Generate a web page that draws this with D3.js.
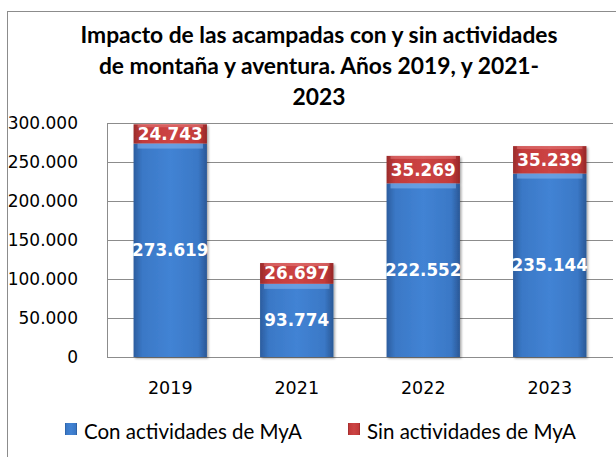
<!DOCTYPE html>
<html><head><meta charset="utf-8">
<script src="https://cdn.jsdelivr.net/npm/d3@7"></script>
<style>body{margin:0;background:#fff}svg{display:block}</style>
</head><body><svg id="c" width="616" height="457"></svg>
<script>
const categories = ["2019", "2021", "2022", "2023"];
const conMyA = [273619, 93774, 222552, 235144];
const sinMyA = [24743, 26697, 35269, 35239];
const seriesNames = ["Con actividades de MyA", "Sin actividades de MyA"];
const yTicks = [0, 50000, 100000, 150000, 200000, 250000, 300000];
const titleLines = ["Impacto de las acampadas con y sin actividades", "de montaña y aventura. Años 2019, y 2021-", "2023"];

(function () {
const svg = d3.select("#c");
const fmt = v => d3.format(",")(v).replace(/,/g, ".");

const defs = svg.append("defs");
function grad(id, stops) {
  const g = defs.append("linearGradient").attr("id", id).attr("x1", "0").attr("x2", "1").attr("y1", "0").attr("y2", "0");
  stops.forEach(s => g.append("stop").attr("offset", s[0]).attr("stop-color", s[1]));
}
grad("gBlue", [[0, "#2c5d9f"], [0.12, "#3a78c6"], [0.5, "#4283d4"], [0.88, "#3a78c6"], [1, "#2a5896"]]);
grad("gRed", [[0, "#9a2b2b"], [0.12, "#c23a3a"], [0.5, "#cc4444"], [0.88, "#c23a3a"], [1, "#962828"]]);
const f = defs.append("filter").attr("id", "sh").attr("x", "-10%").attr("y", "-10%").attr("width", "130%").attr("height", "130%");
f.append("feDropShadow").attr("dx", 1.5).attr("dy", 1.5).attr("stdDeviation", 1.2).attr("flood-color", "#000").attr("flood-opacity", 0.35);

svg.append("rect").attr("x", 7.5).attr("y", 11.5).attr("width", 620).attr("height", 460)
  .attr("fill", "none").attr("stroke", "#8c8c8c").attr("stroke-width", 1);

const title = svg.append("text").attr("text-anchor", "middle")
  .attr("font-family", "Lato, 'Open Sans', sans-serif").attr("font-weight", "bold").attr("font-size", 22.8).attr("fill", "#000");
titleLines.forEach((t, i) => title.append("tspan").attr("x", 319).attr("y", 43 + i * 31).text(t));

const pL = 107, pR = 613, pT = 123, pB = 357;
const x = d3.scaleBand().domain(categories).range([pL, pR]).paddingInner(0.42).paddingOuter(0.21);
const y = d3.scaleLinear().domain([0, 300000]).range([pB, pT]);

svg.append("g").selectAll("line").data(yTicks).join("line")
  .attr("x1", pL).attr("x2", pR).attr("y1", d => Math.round(y(d)) + 0.5).attr("y2", d => Math.round(y(d)) + 0.5)
  .attr("stroke", "#8c8c8c").attr("stroke-width", 1);
svg.append("line").attr("x1", pL + 0.5).attr("x2", pL + 0.5).attr("y1", pT).attr("y2", pB)
  .attr("stroke", "#8c8c8c");

const yAxis = d3.axisLeft(y).tickValues(yTicks).tickFormat(fmt).tickSize(0).tickPadding(0);
const ya = svg.append("g").attr("transform", `translate(${pL - 29},0)`).call(yAxis);
ya.select(".domain").remove();
ya.selectAll("text").attr("font-family", "'DejaVu Sans', sans-serif").attr("font-size", 17).attr("fill", "#000").attr("dy", "0.35em");

const xAxis = d3.axisBottom(x).tickSize(0).tickPadding(0);
const xa = svg.append("g").attr("transform", `translate(0,${pB + 25})`).call(xAxis);
xa.select(".domain").remove();
xa.selectAll("text").attr("font-family", "'DejaVu Sans', sans-serif").attr("font-size", 17.5).attr("fill", "#000").attr("dy", "0.71em");

const data = categories.map((c, i) => ({ c, con: conMyA[i], sin: sinMyA[i] }));
const bw = x.bandwidth();
const gb = svg.append("g");
data.forEach(d => {
  const g = gb.append("g").attr("filter", "url(#sh)");
  g.append("rect").attr("x", x(d.c)).attr("width", bw).attr("y", y(d.con)).attr("height", y(0) - y(d.con)).attr("fill", "url(#gBlue)");
  g.append("rect").attr("x", x(d.c)).attr("width", bw).attr("y", y(d.con + d.sin)).attr("height", y(d.con) - y(d.con + d.sin)).attr("fill", "url(#gRed)");
  g.append("rect").attr("x", x(d.c) + 4).attr("width", bw - 8).attr("y", y(d.con)).attr("height", 5).attr("fill", "#7fb0ec").attr("opacity", 0.6);
  g.append("rect").attr("x", x(d.c) + 4).attr("width", bw - 8).attr("y", y(d.con + d.sin)).attr("height", 3).attr("fill", "#e88080").attr("opacity", 0.5);
});

const lab = svg.append("g").attr("font-family", "'DejaVu Sans', sans-serif").attr("font-weight", "bold").attr("font-size", 16.8)
  .attr("fill", "#fff").attr("text-anchor", "middle");
data.forEach(d => {
  lab.append("text").attr("x", x(d.c) + bw / 2).attr("y", (y(0) + y(d.con)) / 2).attr("dy", "0.36em").text(fmt(d.con));
  lab.append("text").attr("x", x(d.c) + bw / 2).attr("y", (y(d.con) + y(d.con + d.sin)) / 2).attr("dy", "0.36em").text(fmt(d.sin));
});

const legX = [65, 348];
const legFill = ["url(#gBlue)", "url(#gRed)"];
seriesNames.forEach((n, i) => {
  svg.append("rect").attr("x", legX[i]).attr("y", 423).attr("width", 12).attr("height", 12).attr("fill", legFill[i]);
  svg.append("text").attr("x", legX[i] + 19).attr("y", 439).attr("font-family", "Lato, 'Open Sans', sans-serif")
    .attr("font-size", 20.5).attr("fill", "#000").text(n);
});
})();
</script></body></html>
